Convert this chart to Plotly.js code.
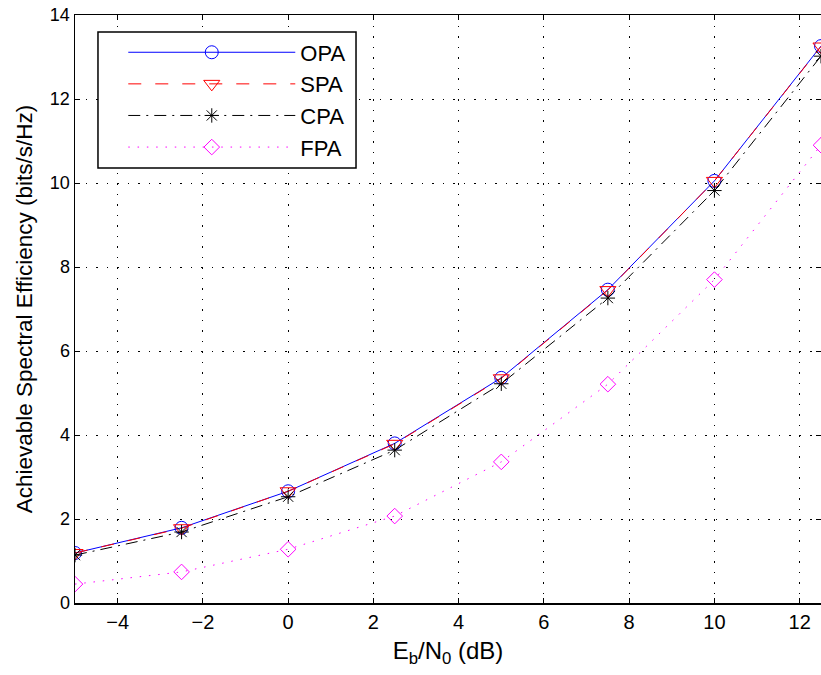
<!DOCTYPE html>
<html>
<head>
<meta charset="utf-8">
<script src="https://cdn.plot.ly/plotly-3.0.1.min.js"></script>
<style>html,body{margin:0;padding:0;background:#fff;}#chart{width:821px;height:675px;}</style>
</head>
<body>
<div id="chart"></div>
<script>
const ebn0 = [-5, -2.5, 0, 2.5, 5, 7.5, 10, 12.5];
const opa = [1.19, 1.79, 2.66, 3.80, 5.36, 7.46, 10.05, 13.26];
const spa = [1.19, 1.78, 2.66, 3.79, 5.35, 7.45, 10.05, 13.25];
const cpa = [1.14, 1.69, 2.53, 3.64, 5.22, 7.26, 9.82, 13.02];
const fpa = [0.45, 0.74, 1.28, 2.07, 3.36, 5.21, 7.70, 10.90];
const seriesNames = ['OPA', 'SPA', 'CPA', 'FPA'];
const xTicks = [-4, -2, 0, 2, 4, 6, 8, 10, 12];
const yTicks = [0, 2, 4, 6, 8, 10, 12, 14];

const FONT = 'Liberation Sans, Arial, Helvetica, sans-serif';

const traces = [
  {x: ebn0, y: opa, name: seriesNames[0], legendgroup: 'a', mode: 'lines+markers',
   line: {color: '#0000ff', width: 1},
   marker: {symbol: 'circle-open', size: 13, color: '#0000ff', line: {color: '#0000ff', width: 1}}},
  {x: ebn0, y: spa, name: seriesNames[1], legendgroup: 'b', mode: 'lines+markers',
   line: {color: '#ff0000', width: 1, dash: '13px,14px'},
   marker: {symbol: 'triangle-down-open', size: 14, color: '#ff0000', line: {color: '#ff0000', width: 1}}},
  {x: ebn0, y: cpa, name: seriesNames[2], legendgroup: 'c', mode: 'lines+markers',
   line: {color: '#000000', width: 1, dash: '12px,6px,2px,6px'},
   marker: {symbol: 'asterisk-open', size: 12, color: '#000000', line: {color: '#000000', width: 1}}},
  {x: ebn0, y: fpa, name: seriesNames[3], legendgroup: 'd', mode: 'lines+markers',
   line: {color: '#ff00ff', width: 1, dash: '1.5px,7.8px'},
   marker: {symbol: 'diamond-open', size: 12, color: '#ff00ff', line: {color: '#ff00ff', width: 1}}}
];

const axisCommon = {
  showline: true, linecolor: '#000', linewidth: 1.5, mirror: 'ticks',
  ticks: 'inside', ticklen: 5, tickcolor: '#000', tickwidth: 1,
  showgrid: true, gridcolor: '#000', gridwidth: 1, griddash: '1.5px,9px',
  zeroline: false
};

const layout = {
  width: 821, height: 675,
  margin: {l: 75, r: 0, t: 15, b: 72},
  paper_bgcolor: '#fff', plot_bgcolor: '#fff',
  font: {family: FONT, color: '#000'},
  showlegend: true,
  xaxis: Object.assign({}, axisCommon, {
    range: [-5, 12.5], tickmode: 'array', tickvals: xTicks,
    tickfont: {family: FONT, size: 20, color: '#000'},
    title: {text: 'E<sub>b</sub>/N<sub>0</sub> (dB)', font: {family: FONT, size: 24, color: '#000'}, standoff: 10}
  }),
  yaxis: Object.assign({}, axisCommon, {
    range: [0, 14], tickmode: 'array', tickvals: yTicks,
    tickfont: {family: FONT, size: 18, color: '#000'},
    title: {text: 'Achievable Spectral Efficiency (bits/s/Hz)', font: {family: FONT, size: 22.5, color: '#000'}, standoff: 11}
  }),
  legend: {
    x: 0.0647, y: 0.972, xanchor: 'left', yanchor: 'top',
    bgcolor: 'rgba(0,0,0,0)', borderwidth: 0,
    font: {family: FONT, size: 22, color: '#000'},
    itemwidth: 167, tracegroupgap: 1, traceorder: 'normal'
  },
  shapes: [{
    type: 'rect', xref: 'paper', yref: 'paper', layer: 'above',
    x0: 0.0308, x1: 0.3767, y0: 0.7398, y1: 0.971,
    line: {color: '#000', width: 1.5}, fillcolor: '#fff'
  }]
};

Plotly.newPlot('chart', traces, layout, {displayModeBar: false, staticPlot: true});
</script>
</body>
</html>
